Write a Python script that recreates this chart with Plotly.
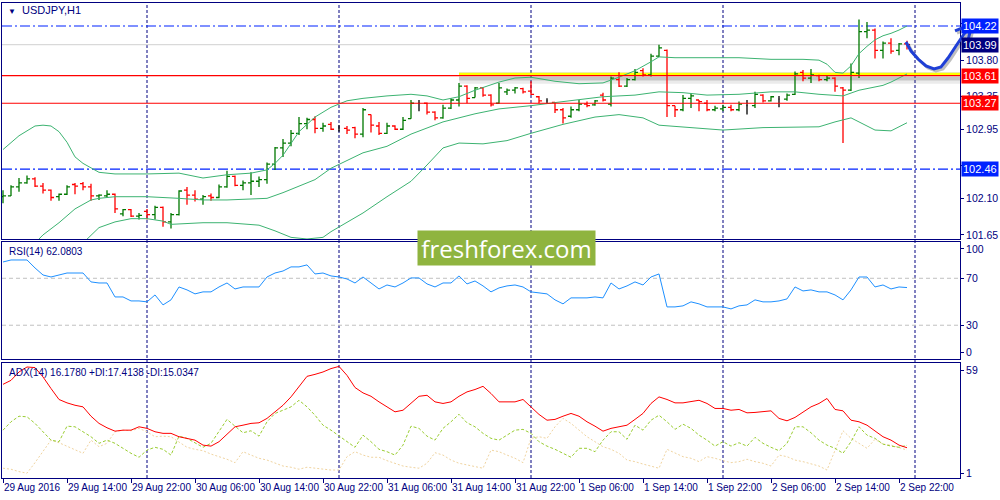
import plotly.graph_objects as go
from plotly.subplots import make_subplots

# H1 bars, index 0 = 29 Aug 2016 06:00 (one bar per hour)
opens = [102.12, 102.13, 102.24, 102.29, 102.34, 102.25, 102.20, 102.12, 102.15, 102.27,
         102.28, 102.24, 102.13, 102.13, 102.15, 101.91, 101.96, 101.88, 101.94, 101.90,
         101.99, 101.81, 101.90, 102.20, 102.14, 102.09, 102.13, 102.11, 102.24, 102.37,
         102.26, 102.29, 102.31, 102.33, 102.52, 102.72, 102.78, 102.90, 103.02, 103.07,
         102.96, 103.01, 102.96, 102.96, 102.97, 102.89, 103.13, 102.99, 102.90, 102.99,
         102.95, 103.08, 103.27, 103.27, 103.16, 103.09, 103.21, 103.31, 103.48, 103.34,
         103.46, 103.37, 103.27, 103.41, 103.43, 103.45, 103.42, 103.35, 103.30, 103.28,
         103.19, 103.11, 103.19, 103.26, 103.25, 103.37, 103.26, 103.56, 103.48, 103.56,
         103.67, 103.62, 103.85, 103.92, 103.24, 103.19, 103.33, 103.31, 103.27, 103.19,
         103.20, 103.22, 103.19, 103.24, 103.24, 103.37, 103.30, 103.32, 103.32, 103.38,
         103.65, 103.58, 103.61, 103.56, 103.58, 103.46, 103.43, 103.64, 104.15, 104.17,
         103.92, 104.01, 103.92, 104.00]
highs = [102.20, 102.26, 102.35, 102.38, 102.36, 102.29, 102.21, 102.16, 102.26, 102.29,
         102.30, 102.28, 102.15, 102.20, 102.16, 101.97, 101.97, 101.92, 101.97, 102.01,
         102.00, 101.92, 102.20, 102.24, 102.20, 102.14, 102.16, 102.27, 102.44, 102.38,
         102.32, 102.42, 102.37, 102.54, 102.73, 102.83, 102.94, 103.10, 103.09, 103.11,
         103.03, 103.04, 103.00, 102.99, 102.98, 103.21, 103.13, 103.04, 103.03, 103.00,
         103.10, 103.31, 103.31, 103.28, 103.17, 103.25, 103.33, 103.52, 103.49, 103.47,
         103.47, 103.38, 103.52, 103.45, 103.47, 103.46, 103.54, 103.36, 103.33, 103.28,
         103.21, 103.23, 103.31, 103.29, 103.31, 103.40, 103.60, 103.65, 103.58, 103.69,
         103.70, 103.88, 103.99, 103.93, 103.24, 103.37, 103.39, 103.31, 103.31, 103.24,
         103.25, 103.25, 103.29, 103.31, 103.41, 103.38, 103.36, 103.36, 103.39, 103.66,
         103.68, 103.69, 103.62, 103.61, 103.59, 103.47, 103.76, 104.30, 104.27, 104.19,
         104.03, 104.07, 104.01, 104.04]
lows = [102.04, 102.13, 102.18, 102.28, 102.24, 102.16, 102.07, 102.07, 102.14, 102.15,
        102.20, 102.07, 102.08, 102.11, 101.92, 101.88, 101.87, 101.84, 101.84, 101.84,
        101.75, 101.73, 101.89, 102.02, 102.06, 102.02, 102.07, 102.10, 102.23, 102.25,
        102.20, 102.14, 102.24, 102.28, 102.45, 102.61, 102.74, 102.88, 102.95, 102.90,
        102.92, 102.94, 102.92, 102.89, 102.84, 102.85, 102.91, 102.88, 102.89, 102.94,
        102.94, 103.08, 103.17, 103.13, 103.06, 103.08, 103.20, 103.23, 103.27, 103.34,
        103.35, 103.23, 103.26, 103.37, 103.39, 103.39, 103.37, 103.27, 103.27, 103.15,
        103.02, 103.09, 103.17, 103.22, 103.24, 103.29, 103.23, 103.47, 103.47, 103.55,
        103.60, 103.60, 103.84, 103.10, 103.10, 103.17, 103.21, 103.17, 103.17, 103.17,
        103.17, 103.17, 103.17, 103.13, 103.21, 103.28, 103.29, 103.22, 103.30, 103.37,
        103.54, 103.52, 103.54, 103.54, 103.41, 102.78, 103.42, 103.58, 104.07, 103.82,
        103.82, 103.88, 103.86, 103.93]
closes = [102.13, 102.24, 102.29, 102.34, 102.25, 102.20, 102.11, 102.15, 102.24, 102.25,
          102.24, 102.13, 102.14, 102.15, 101.97, 101.96, 101.88, 101.89, 101.90, 101.99,
          101.81, 101.90, 102.19, 102.14, 102.09, 102.12, 102.11, 102.24, 102.37, 102.26,
          102.29, 102.31, 102.33, 102.52, 102.72, 102.78, 102.90, 103.02, 103.07, 102.96,
          102.99, 102.95, 102.96, 102.94, 102.89, 103.19, 103.00, 102.90, 102.99, 102.95,
          103.06, 103.27, 103.27, 103.16, 103.09, 103.21, 103.31, 103.48, 103.33, 103.46,
          103.37, 103.25, 103.46, 103.43, 103.46, 103.41, 103.38, 103.30, 103.30, 103.19,
          103.09, 103.19, 103.26, 103.24, 103.30, 103.31, 103.58, 103.48, 103.56, 103.65,
          103.62, 103.85, 103.95, 103.24, 103.19, 103.33, 103.36, 103.29, 103.19, 103.21,
          103.22, 103.19, 103.26, 103.24, 103.38, 103.30, 103.35, 103.32, 103.37, 103.63,
          103.58, 103.62, 103.56, 103.58, 103.48, 103.43, 103.65, 104.15, 104.17, 103.92,
          104.01, 103.91, 104.00, 103.99]

# Bollinger Bands, read at selected bars
bb_up_idx = [0, 2, 4, 5, 6, 7, 8, 9, 10, 11, 12, 14, 18, 22, 25, 28, 31, 33, 34, 35,
             36, 37, 39, 41, 43, 45, 48, 51, 53, 55, 57, 59, 62, 64, 66, 69, 72, 75, 77, 79,
             81, 82, 84, 88, 92, 96, 100, 102, 103, 104, 105, 106, 107, 108, 109, 110, 111, 112, 113]
bb_up = [102.70, 102.87, 102.99, 103.00, 102.99, 102.92, 102.79, 102.61, 102.53, 102.47,
         102.42, 102.40, 102.40, 102.41, 102.35, 102.39, 102.41, 102.45, 102.53, 102.63,
         102.78, 102.92, 103.10, 103.22, 103.30, 103.33, 103.36, 103.38, 103.36, 103.31,
         103.35, 103.43, 103.53, 103.58, 103.59, 103.54, 103.51, 103.52, 103.59, 103.67,
         103.78, 103.84, 103.83, 103.83, 103.83, 103.81, 103.81, 103.80, 103.75, 103.65,
         103.64, 103.73, 103.88, 103.97, 104.05, 104.10, 104.13, 104.17, 104.22]
bb_mid_idx = [4, 5, 7, 9, 11, 12, 14, 18, 22, 25, 28, 31, 33, 35, 37, 39, 41, 43, 45, 48,
              51, 55, 59, 62, 66, 70, 75, 79, 82, 85, 88, 92, 96, 99, 102, 105, 107, 110, 111, 113]
bb_mid = [101.55, 101.65, 101.80, 101.97, 102.08, 102.10, 102.12, 102.12, 102.10, 102.08,
          102.08, 102.09, 102.10, 102.17, 102.25, 102.33, 102.47, 102.57, 102.66, 102.74,
          102.89, 103.04, 103.14, 103.20, 103.24, 103.29, 103.35, 103.37, 103.41, 103.40,
          103.37, 103.38, 103.41, 103.41, 103.38, 103.36, 103.43, 103.49, 103.53, 103.63]
bb_low_idx = [10, 11, 12, 14, 16, 18, 20, 21, 25, 28, 32, 34, 36, 38, 40, 41, 43, 45, 48, 51,
              53, 55, 57, 60, 63, 66, 70, 74, 77, 80, 82, 86, 90, 95, 102, 104, 106, 107, 109, 111, 113]
bb_low = [101.55, 101.64, 101.74, 101.81, 101.85, 101.85, 101.82, 101.78, 101.80, 101.80,
          101.77, 101.70, 101.62, 101.60, 101.62, 101.69, 101.81, 101.92, 102.12, 102.31,
          102.51, 102.72, 102.78, 102.77, 102.81, 102.90, 103.01, 103.10, 103.13, 103.09,
          103.00, 102.97, 102.94, 102.97, 102.98, 103.04, 103.09, 103.04, 102.94, 102.93, 103.03]

rsi = [83.9, 85.6, 85.6, 85.6, 78.8, 72.8, 71.1, 72.8, 74.5, 74.5,
       74.5, 66.9, 66.0, 66.0, 54.1, 54.1, 50.7, 50.7, 49.9, 55.8,
       47.3, 51.6, 62.6, 60.1, 56.7, 58.4, 58.4, 62.6, 66.0, 60.9,
       62.6, 62.6, 62.6, 71.1, 74.5, 76.2, 79.7, 79.7, 81.4, 73.7,
       74.5, 72.0, 71.1, 69.4, 66.0, 71.1, 66.0, 60.9, 64.3, 62.6,
       66.0, 70.3, 70.3, 65.2, 62.6, 66.0, 66.0, 72.0, 65.2, 67.7,
       63.5, 58.4, 61.8, 63.5, 64.3, 62.6, 58.4, 57.5, 56.7, 51.6,
       48.2, 53.3, 53.3, 53.3, 54.1, 53.3, 66.0, 60.9, 63.5, 66.9,
       64.3, 71.1, 73.7, 45.6, 45.6, 46.5, 49.9, 48.2, 45.6, 45.6,
       45.6, 43.9, 46.5, 47.3, 51.6, 49.9, 49.9, 50.7, 52.4, 62.6,
       59.2, 60.1, 58.4, 58.4, 55.8, 51.6, 60.1, 71.1, 71.1, 62.6,
       64.3, 60.9, 62.6, 62.08]

adx = [48.0, 50.0, 54.2, 56.7, 56.4, 51.7, 45.9, 40.4, 38.7, 37.5,
       36.7, 32.0, 28.4, 26.2, 24.5, 25.0, 25.0, 26.7, 25.9, 24.2,
       23.4, 23.4, 21.7, 20.9, 20.0, 17.5, 17.0, 19.2, 23.0, 26.7,
       27.5, 28.4, 28.7, 30.9, 34.2, 37.5, 41.7, 47.0, 52.0, 53.0,
       54.2, 55.9, 57.0, 52.5, 46.4, 43.7, 42.0, 39.2, 36.7, 34.2,
       35.0, 38.7, 42.0, 42.5, 39.2, 38.4, 39.2, 42.0, 44.2, 45.4,
       47.0, 43.4, 39.2, 39.2, 39.2, 40.4, 36.7, 32.9, 30.0, 30.4,
       32.0, 33.4, 32.0, 29.2, 27.0, 24.5, 25.9, 26.7, 27.5, 30.4,
       33.4, 38.4, 41.7, 40.4, 38.7, 38.7, 39.2, 40.0, 38.4, 35.9,
       35.9, 35.0, 35.4, 33.7, 33.9, 34.2, 34.7, 30.9, 29.7, 31.4,
       34.2, 36.7, 38.4, 40.9, 35.4, 34.7, 30.0, 29.2, 27.5, 24.7,
       21.7, 20.0, 17.5, 16.18]
plus_di = [25.0, 29.2, 32.0, 31.7, 28.4, 24.2, 20.0, 19.2, 27.0, 26.7,
           24.2, 21.7, 18.4, 20.0, 18.4, 15.9, 13.4, 11.4, 15.0, 16.4,
           15.4, 12.5, 22.0, 20.9, 18.7, 16.4, 18.4, 24.2, 30.4, 27.0,
           23.7, 24.7, 22.0, 29.2, 33.4, 35.0, 36.7, 40.0, 36.7, 32.5,
           27.5, 25.0, 22.0, 19.2, 16.4, 22.5, 19.2, 15.4, 14.2, 12.5,
           17.5, 27.0, 25.9, 22.0, 20.0, 25.9, 29.2, 33.0, 28.7, 26.7,
           23.4, 20.9, 20.0, 22.5, 25.0, 25.4, 23.4, 19.2, 17.0, 15.4,
           13.4, 11.4, 15.9, 15.9, 14.2, 20.0, 24.2, 24.2, 20.4, 27.5,
           25.0, 30.0, 32.5, 29.2, 25.4, 28.0, 25.9, 22.5, 20.0, 17.0,
           19.2, 17.0, 18.7, 17.0, 21.4, 18.4, 16.4, 14.7, 18.4, 26.7,
           26.7, 23.7, 20.0, 17.5, 15.9, 13.4, 19.2, 26.7, 22.5, 20.9,
           18.0, 17.0, 16.4, 17.41]
minus_di = [5.9, 5.4, 4.2, 3.4, 8.7, 14.2, 20.0, 18.7, 17.0, 15.0,
            13.4, 20.0, 16.7, 18.4, 24.2, 25.0, 24.7, 25.9, 24.2, 21.7,
            22.0, 21.7, 19.2, 16.4, 15.4, 14.7, 13.0, 11.7, 10.4, 8.7,
            14.2, 12.5, 10.9, 10.0, 8.4, 7.0, 6.4, 5.4, 6.4, 5.9,
            5.4, 5.0, 5.0, 11.7, 14.2, 12.5, 11.4, 11.4, 9.7, 8.4,
            7.0, 6.4, 5.9, 8.4, 13.7, 12.5, 10.0, 8.4, 7.5, 6.7,
            5.9, 15.0, 14.2, 12.5, 10.9, 8.7, 20.9, 21.7, 20.9, 26.7,
            30.9, 28.4, 25.0, 21.7, 19.2, 16.7, 15.4, 13.4, 10.0, 9.2,
            8.0, 7.0, 5.9, 15.4, 13.4, 11.7, 10.9, 9.2, 11.7, 10.9,
            9.7, 8.7, 9.2, 10.4, 9.2, 8.4, 7.0, 12.5, 11.7, 10.0,
            9.2, 8.0, 7.0, 5.0, 14.7, 24.7, 20.9, 18.4, 15.9, 20.4,
            18.0, 17.5, 16.4, 15.03]

time_ticks = [0, 8, 16, 24, 32, 40, 48, 56, 64, 72, 80, 88, 96, 104, 112]
time_labels = ["29 Aug 2016", "29 Aug 14:00", "29 Aug 22:00", "30 Aug 06:00", "30 Aug 14:00",
               "30 Aug 22:00", "31 Aug 06:00", "31 Aug 14:00", "31 Aug 22:00", "1 Sep 06:00",
               "1 Sep 14:00", "1 Sep 22:00", "2 Sep 06:00", "2 Sep 14:00", "2 Sep 22:00"]
day_breaks = [18, 42, 66, 90, 114]

price_ticks = [101.65, 102.10, 102.50, 102.95, 103.35, 103.80, 104.25]
blue_levels = [104.22, 102.46]
red_levels = [103.61, 103.27]
bid = 103.99
zone_from = 57

NAVY = "#000080"
BLUE = "#0022ff"
RED = "#ff0000"
BAND = "#3cb371"
FONT = "Liberation Sans"

# plot area in pixels, for decorations placed in paper coordinates
L, R, T, B = 2, 960, 3, 478


def paper(px, py):
    return (px - L) / (R - L), (B - py) / (B - T)


def path(points, dx=0, dy=0):
    pts = [paper(x + dx, y + dy) for x, y in points]
    return "M " + " L ".join(f"{x:.4f},{y:.4f}" for x, y in pts)


n = len(closes)
x = list(range(n))
XR = [-0.125, 119.625]

fig = make_subplots(rows=3, cols=1, shared_xaxes=True, vertical_spacing=0.01)

for idx, vals in [(bb_up_idx, bb_up), (bb_mid_idx, bb_mid), (bb_low_idx, bb_low)]:
    fig.add_trace(go.Scatter(x=idx, y=vals, mode="lines", line=dict(color=BAND, width=1),
                             hoverinfo="skip"), row=1, col=1)

groups = [
    ([i for i in x if closes[i] > opens[i]], "#007800"),
    ([i for i in x if closes[i] < opens[i]], RED),
    ([i for i in x if closes[i] == opens[i]], "#000000"),
]
for idx, col in groups:
    gap = min(b - a for a, b in zip(idx, idx[1:])) if len(idx) > 1 else 1
    fig.add_trace(go.Ohlc(
        x=idx,
        open=[opens[i] for i in idx], high=[highs[i] for i in idx],
        low=[lows[i] for i in idx], close=[closes[i] for i in idx],
        increasing_line_color=col, decreasing_line_color=col,
        line_width=1.3, tickwidth=min(0.5, 0.38 / gap), hoverinfo="skip",
    ), row=1, col=1)

fig.add_trace(go.Scatter(x=x, y=rsi, mode="lines", line=dict(color="#1e90ff", width=1),
                         hoverinfo="skip"), row=2, col=1)

fig.add_trace(go.Scatter(x=x, y=minus_di, mode="lines",
                         line=dict(color="#f0d4a0", width=1, dash="2px,2px"), hoverinfo="skip"), row=3, col=1)
fig.add_trace(go.Scatter(x=x, y=plus_di, mode="lines",
                         line=dict(color="#9acd32", width=1, dash="3px,2px"), hoverinfo="skip"), row=3, col=1)
fig.add_trace(go.Scatter(x=x, y=adx, mode="lines", line=dict(color=RED, width=1),
                         hoverinfo="skip"), row=3, col=1)

shapes = []
for d in day_breaks:
    shapes.append(dict(type="line", xref="x", yref="paper", x0=d, x1=d, y0=0, y1=1,
                       line=dict(color=NAVY, width=1, dash="3px,2px"), layer="below"))

# support zone highlight
shapes.append(dict(type="rect", xref="x", yref="y", x0=zone_from, x1=XR[1], y0=103.60, y1=103.55,
                   fillcolor="rgba(90,90,90,0.35)", line_width=0, layer="below"))
shapes.append(dict(type="rect", xref="x", yref="y", x0=zone_from, x1=XR[1], y0=103.55, y1=103.51,
                   fillcolor="rgba(90,90,90,0.12)", line_width=0, layer="below"))
shapes.append(dict(type="rect", xref="x", yref="y", x0=zone_from, x1=XR[1], y0=103.655, y1=103.64,
                   fillcolor="rgba(90,90,90,0.15)", line_width=0, layer="below"))
shapes.append(dict(type="rect", xref="x", yref="y", x0=zone_from, x1=XR[1], y0=103.612, y1=103.645,
                   fillcolor="#ffff00", line_width=0, layer="below"))

shapes.append(dict(type="line", xref="x domain", yref="y", x0=0, x1=1, y0=bid, y1=bid,
                   line=dict(color="#d0d0d0", width=1), layer="below"))
for lv in red_levels:
    shapes.append(dict(type="line", xref="x domain", yref="y", x0=0, x1=1, y0=lv, y1=lv,
                       line=dict(color=RED, width=1.2), layer="above"))
for lv in blue_levels:
    shapes.append(dict(type="line", xref="x domain", yref="y", x0=0, x1=1, y0=lv, y1=lv,
                       line=dict(color=BLUE, width=1.2, dash="10px,3px,2px,3px"), layer="below"))
for lv in [70, 30]:
    shapes.append(dict(type="line", xref="x2 domain", yref="y2", x0=0, x1=1, y0=lv, y1=lv,
                       line=dict(color="#c0c0c0", width=1, dash="4px,3px"), layer="below"))

# hand drawn forecast arrow
arrow = [(906, 42), (911, 51), (918, 59), (926, 66), (934, 69), (941, 67), (948, 58),
         (956, 46), (964, 34), (972, 24)]
head = [(955, 31), (972, 24), (968, 40)]
for dx, dy, col in [(2, 2, "rgba(0,0,0,0.25)"), (0, 0, "#1f3fd6")]:
    shapes.append(dict(type="path", xref="paper", yref="paper", path=path(arrow, dx, dy),
                       line=dict(color=col, width=3)))
    shapes.append(dict(type="path", xref="paper", yref="paper", path=path(head, dx, dy),
                       line=dict(color=col, width=3)))

annotations = []
for val, col in [(104.22, BLUE), (103.99, NAVY), (103.61, RED), (103.27, RED), (102.46, BLUE)]:
    annotations.append(dict(xref="paper", yref="y", x=1, y=val, xanchor="left", yanchor="middle",
                            xshift=1, text=f"{val:.2f}", showarrow=False, bgcolor=col,
                            borderpad=1, font=dict(family=FONT, size=11, color="white")))

tx, ty = paper(6, 10)
annotations.append(dict(xref="paper", yref="paper", x=tx, y=ty, xanchor="left", yanchor="middle",
                        text="<span style='font-size:8px'>▼</span>  USDJPY,H1", showarrow=False,
                        font=dict(family=FONT, size=11, color=NAVY)))
tx, ty = paper(7, 251)
annotations.append(dict(xref="paper", yref="paper", x=tx, y=ty, xanchor="left", yanchor="middle",
                        text="RSI(14) 62.0803", showarrow=False,
                        font=dict(family=FONT, size=10, color=NAVY)))
tx, ty = paper(7, 372)
annotations.append(dict(xref="paper", yref="paper", x=tx, y=ty, xanchor="left", yanchor="middle",
                        text="ADX(14) 16.1780 +DI:17.4138 -DI:15.0347", showarrow=False,
                        font=dict(family=FONT, size=10, color=NAVY)))
tx, ty = paper(506.5, 248)
annotations.append(dict(xref="paper", yref="paper", x=tx, y=ty, xanchor="center", yanchor="middle",
                        width=175, height=32, bgcolor="#8fb43f", borderpad=1, showarrow=False,
                        text="freshforex.com", font=dict(family="Open Sans", size=24, color="white")))

axis_common = dict(showgrid=False, zeroline=False, showline=True, mirror=True,
                   linecolor=NAVY, linewidth=1)

fig.update_xaxes(range=XR, rangeslider_visible=False, **axis_common)
fig.update_xaxes(showticklabels=False, ticks="", row=1, col=1)
fig.update_xaxes(showticklabels=False, ticks="", row=2, col=1)
fig.update_xaxes(tickvals=time_ticks, ticktext=time_labels, ticks="outside", ticklen=4,
                 tickcolor=NAVY, ticklabelposition="outside right", tickangle=0,
                 tickfont=dict(family=FONT, size=10, color=NAVY), row=3, col=1)

fig.update_yaxes(side="right", ticks="outside", ticklen=3, tickcolor=NAVY,
                 tickfont=dict(family=FONT, size=10.5, color=NAVY), **axis_common)
fig.update_yaxes(range=[101.60, 104.503], tickvals=price_ticks, tickformat=".2f", row=1, col=1)
fig.update_yaxes(range=[1.2, 100.9], tickvals=[95, 70, 30, 6.5], ticktext=["100", "70", "30", "0"],
                 row=2, col=1)
fig.update_yaxes(range=[1.0, 58.7], tickvals=[55, 3.5], ticktext=["59", "1"], row=3, col=1)

fig.update_layout(
    width=1000, height=500,
    margin=dict(l=L, r=1000 - R, t=T, b=500 - B),
    paper_bgcolor="white", plot_bgcolor="rgba(0,0,0,0)",
    showlegend=False,
    yaxis=dict(domain=[0.5032, 1.0]),
    yaxis2=dict(domain=[0.2505, 0.4968]),
    yaxis3=dict(domain=[0.0, 0.2421]),
    shapes=shapes,
    annotations=annotations,
)

fig.write_html("out.html", config={"displayModeBar": False},
               post_script="document.body.style.margin='0';")
